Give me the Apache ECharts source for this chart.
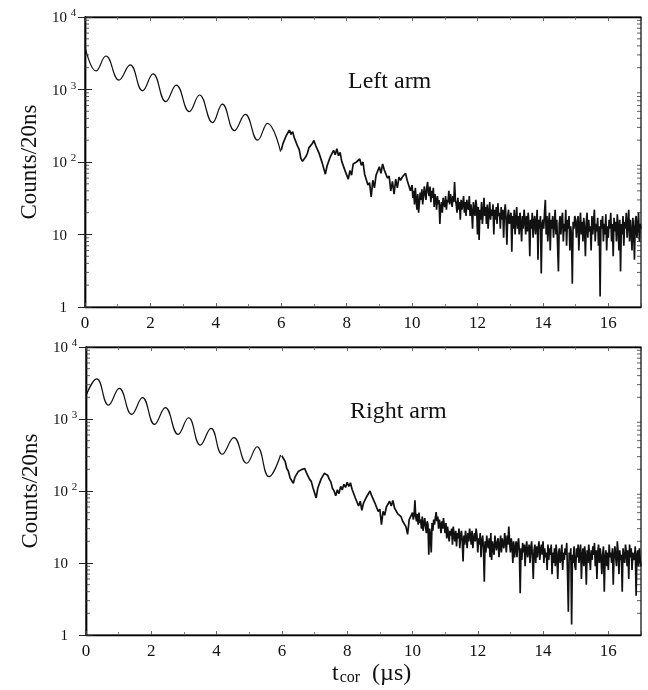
<!DOCTYPE html>
<html>
<head>
<meta charset="utf-8">
<script src="https://cdn.jsdelivr.net/npm/echarts@6/dist/echarts.min.js"></script>
<style>
html,body{margin:0;padding:0;background:#fff;}
#chart{width:648px;height:690px;}
</style>
</head>
<body>
<div id="chart"></div>
<script>
// ---------- DATA ----------
const yTickValues = [1, 10, 100, 1000, 10000];
const xTickLabels = [0, 2, 4, 6, 8, 10, 12, 14, 16];

// Left arm: smooth early part (extrema of the oscillation), t in µs
const leftEarlyT = [0, 0.34, 0.64, 1.04, 1.38, 1.76, 2.08, 2.47, 2.79, 3.19, 3.5, 3.9, 4.2, 4.57, 4.9, 5.28, 5.58, 5.98];
const leftEarlyCounts = [3900, 1800, 2900, 1350, 2180, 960, 1640, 680, 1150, 495, 840, 350, 630, 271, 455, 200, 342, 139];

// Left arm: binned counts 6.00–9.95 µs, every 0.05 µs
const midStart = 6.0, midStep = 0.05;
const leftMidCounts = [
  145,178,180,230,228,275,240,262,215,205,165,148,112,102,98,118,132,158,165,180,
  198,170,178,135,134,98,98,68,88,92,118,114,145,126,152,122,136,102,106,76,
  80,58,76,66,94,90,100,104,110,90,100,68,72,48,52,33,56,44,66,64,
  86,70,94,78,82,60,64,40,54,36,58,44,62,56,62,66,70,56,58,40
];

// Left arm: binned counts 10.000–17.000 µs, every 0.025 µs
const tailStart = 10.0, tailStep = 0.025;
const leftTailCounts = [
  48,32,40,26,44,30,22,36,20,28,38,30,42,26,34,46,36,30,44,53,
  38,34,46,28,40,32,44,24,36,30,22,34,26,30,14,24,28,20,32,26,
  24,34,22,30,28,40,26,36,30,24,34,28,53,30,26,20,32,22,28,16,
  30,22,26,34,20,28,18,30,24,22,34,18,26,20,12,28,22,18,30,24,
  10,24,8.4,22,16,28,14,20,32,18,24,14,26,12,20,28,16,22,18,26,
  10,22,16,24,14,27,18,20,12,24,16,22,9,20,26,16,7.2,18,22,14,
  14,20,5.8,18,12,22,10,16,24,12,18,10,20,14,8,18,12,22,16,10,
  18,11,20,14,5,16,12,20,9,15,18,10,14,22,4.5,16,12,18,2.9,14,
  16,12,20,30,10,18,8,14,20,6,16,12,18,9,14,22,10,16,7,3.1,
  14,18,10,16,20,8,14,11,22,7,16,12,18,6,13,10,2.1,15,12,18,
  16,9,14,18,6,13,20,10,15,8,17,12,5,14,20,9,16,11,13,6,
  18,10,15,22,8,14,11,17,7,13,1.4,16,12,18,8,14,10,19,6,13,
  9,16,12,20,8,14,5,17,11,15,8,19,13,6,16,3.1,14,10,18,7,
  15,12,20,9,14,22,8,16,11,6,17,12,4.5,15,18,9,13,20,8,14,
  12
];

// Right arm: smooth early part (extrema), t in µs
const rightEarlyT = [0, 0.33, 0.69, 1.02, 1.40, 1.73, 2.10, 2.43, 2.82, 3.14, 3.50, 3.83, 4.17, 4.53, 4.92, 5.24, 5.60, 5.96];
const rightEarlyCounts = [2100, 3600, 1560, 2670, 1160, 1980, 843, 1440, 612, 1040, 435, 742, 324, 550, 243, 412, 158, 316];

// Right arm: binned counts 6.00–9.95 µs, every 0.05 µs
const rightMidCounts = [
  310,280,258,205,188,152,146,128,156,160,186,190,198,202,205,180,174,145,136,112,
  106,80,110,114,146,148,176,182,166,146,134,108,100,86,104,92,116,104,124,112,
  132,116,130,106,104,80,82,62,72,54,68,70,84,84,100,86,88,68,70,52,
  56,34,52,46,60,60,72,62,74,58,58,48,46,44,38,38,32,25,40,40
];

// Right arm: binned counts 10.000–17.000 µs, every 0.025 µs
const rightTailCounts = [
  50,40,46,74,44,38,48,34,50,36,40,30,44,28,36,42,32,26,38,34,
  13,30,24,14,36,28,40,34,42,51,38,44,30,40,34,26,38,30,42,32,
  26,36,22,32,34,20,28,24,30,18,32,24,20,28,17,26,22,30,16,24,
  28,20,10.5,24,18,28,22,16,26,20,30,24,18,28,16,22,26,20,30,24,
  14,22,18,26,12,20,24,16,5.5,20,14,24,18,16,22,12,26,11,20,16,
  13,24,18,15,20,22,12,17,24,14,22,18,16,26,20,14,24,18,32,20,
  14,22,18,10,20,12,16,20,12,18,22,14,3.8,16,11,19,14,18,9,16,
  20,12,15,18,10,16,20,12,6,15,18,10,17,12,16,20,11,15,18,13,
  20,10,16,12,14,8,18,11,16,13,18,7,14,10,16,9,18,12,6,14,
  16,10,12,18,8,14,11,16,13,19,7,2.1,14,11,16,1.4,13,10,17,9,
  8,16,12,18,10,14,18,6,13,16,9,17,12,5,15,10,18,12,8,15,
  11,17,13,19,9,15,6,14,18,10,16,12,7,13,17,4,12,15,9,14,
  8,18,12,14,10,16,5,13,17,12,9,20,14,7,15,11,13,4,16,12,
  10,18,14,9,15,6,18,12,16,8,14,11,12,17,3.5,13,15,9,16,11,
  9
];

// minor tick values of the log axis (2..9 per decade)
const minorTickValues = [];
[1, 10, 100, 1000].forEach(d => { for (let m = 2; m <= 9; m++) minorTickValues.push(m * d); });

// ---------- BUILD ----------
function pairs(ts, vs) { return ts.map((t, i) => [t, vs[i]]); }
function binPairs(vs, start, step) { return vs.map((v, i) => [+(start + i * step).toFixed(3), v]); }

const XMIN = 0, XMAX = 17;
const serif = '"Liberation Serif", "DejaVu Serif", serif';

function yLabel(v) {
  if (v === 1) return '{b|1}{s| }';
  if (v === 10) return '{b|10}{s| }';
  const e = Math.round(Math.log10(v));
  return '{b|10}{s|' + e + '}';
}

function makeX(gi, pos) {
  const bottom = pos === 'bottom';
  return {
    type: 'value', gridIndex: gi, position: pos, min: XMIN, max: XMAX, interval: 2,
    axisLine: { show: true, onZero: false, lineStyle: { color: '#000', width: 1.4 } },
    axisTick: { show: true, inside: true, length: 4, lineStyle: { color: '#444', width: 0.8 } },
    minorTick: { show: true, splitNumber: 2, length: 3, lineStyle: { color: '#666', width: 0.8 } },
    splitLine: { show: false },
    axisLabel: {
      show: bottom, showMaxLabel: false, margin: 8,
      fontFamily: serif, fontSize: 17, color: '#111',
      formatter: v => String(v)
    }
  };
}

function makeY(gi, pos) {
  const left = pos === 'left';
  return {
    type: 'log', logBase: 10, gridIndex: gi, position: pos, min: 1, max: 10000,
    axisLine: { show: true, lineStyle: { color: '#000', width: 1.4 } },
    axisTick: { show: true, inside: true, length: 7, lineStyle: { color: '#222', width: 1 } },
    splitLine: { show: false },
    name: left ? 'Counts/20ns' : '',
    nameLocation: 'middle', nameGap: 44, nameRotate: 90,
    nameTextStyle: { fontFamily: serif, fontSize: 23, color: '#111' },
    axisLabel: {
      show: left, margin: 7, formatter: yLabel,
      rich: {
        b: { fontFamily: serif, fontSize: 15, color: '#111', verticalAlign: 'bottom', lineHeight: 18 },
        s: { fontFamily: serif, fontSize: 11, color: '#111', width: 9, align: 'left', verticalAlign: 'top', lineHeight: 18, padding: [0, 0, 10, 2] }
      }
    }
  };
}

function tickSeries(gi) {
  return {
    type: 'custom', xAxisIndex: gi * 2, yAxisIndex: gi * 2, silent: true, z: 5,
    clip: false,
    data: minorTickValues.map(v => [XMIN, v]),
    encode: { x: 0, y: 1 },
    renderItem: function (params, api) {
      const v = api.value(1);
      const pl = api.coord([XMIN, v]);
      const pr = api.coord([XMAX, v]);
      const st = { stroke: '#333', lineWidth: 0.8 };
      return {
        type: 'group', children: [
          { type: 'line', shape: { x1: pl[0], y1: pl[1], x2: pl[0] + 4, y2: pl[1] }, style: st },
          { type: 'line', shape: { x1: pr[0] - 4, y1: pr[1], x2: pr[0], y2: pr[1] }, style: st }
        ]
      };
    }
  };
}

function lineSeries(gi, data, smooth, width) {
  return {
    type: 'line', xAxisIndex: gi * 2, yAxisIndex: gi * 2, data: data,
    showSymbol: false, symbol: 'none', smooth: smooth, z: 3,
    lineStyle: { color: '#111', width: width },
    emphasis: { disabled: true }
  };
}

const option = {
  backgroundColor: '#fff',
  animation: false,
  grid: [
    { left: 85, top: 17, width: 556, height: 290, show: true, borderColor: '#000', borderWidth: 1.2, backgroundColor: 'transparent' },
    { left: 86, top: 347, width: 555, height: 288, show: true, borderColor: '#000', borderWidth: 1.2, backgroundColor: 'transparent' }
  ],
  xAxis: [makeX(0, 'bottom'), makeX(0, 'top'), makeX(1, 'bottom'), makeX(1, 'top')],
  yAxis: [makeY(0, 'left'), makeY(0, 'right'), makeY(1, 'left'), makeY(1, 'right')],
  series: [
    lineSeries(0, pairs(leftEarlyT, leftEarlyCounts), 0.45, 1.2),
    lineSeries(0, binPairs(leftMidCounts, midStart, midStep).concat(binPairs(leftTailCounts, tailStart, tailStep)), false, 1.7),
    lineSeries(1, pairs(rightEarlyT, rightEarlyCounts), 0.45, 1.2),
    lineSeries(1, binPairs(rightMidCounts, midStart, midStep).concat(binPairs(rightTailCounts, tailStart, tailStep)), false, 1.7),
    tickSeries(0),
    tickSeries(1)
  ],
  graphic: [
    { type: 'text', left: 348, top: 70, style: { text: 'Left arm', font: '24px ' + serif, fill: '#111' } },
    { type: 'text', left: 350, top: 400, style: { text: 'Right arm', font: '24px ' + serif, fill: '#111' } },
    { type: 'text', left: 332, top: 662, style: {
        text: '{t|t}{c|cor}{u|  (µs)}',
        rich: {
          t: { fontFamily: serif, fontSize: 24, fill: '#111', verticalAlign: 'bottom' },
          c: { fontFamily: serif, fontSize: 16, fill: '#111', verticalAlign: 'bottom', padding: [0, 0, 0, 1] },
          u: { fontFamily: serif, fontSize: 24, fill: '#111', verticalAlign: 'bottom' }
        }
    } }
  ]
};

const chart = echarts.init(document.getElementById('chart'), null, { renderer: 'canvas' });
chart.setOption(option);
</script>
</body>
</html>
